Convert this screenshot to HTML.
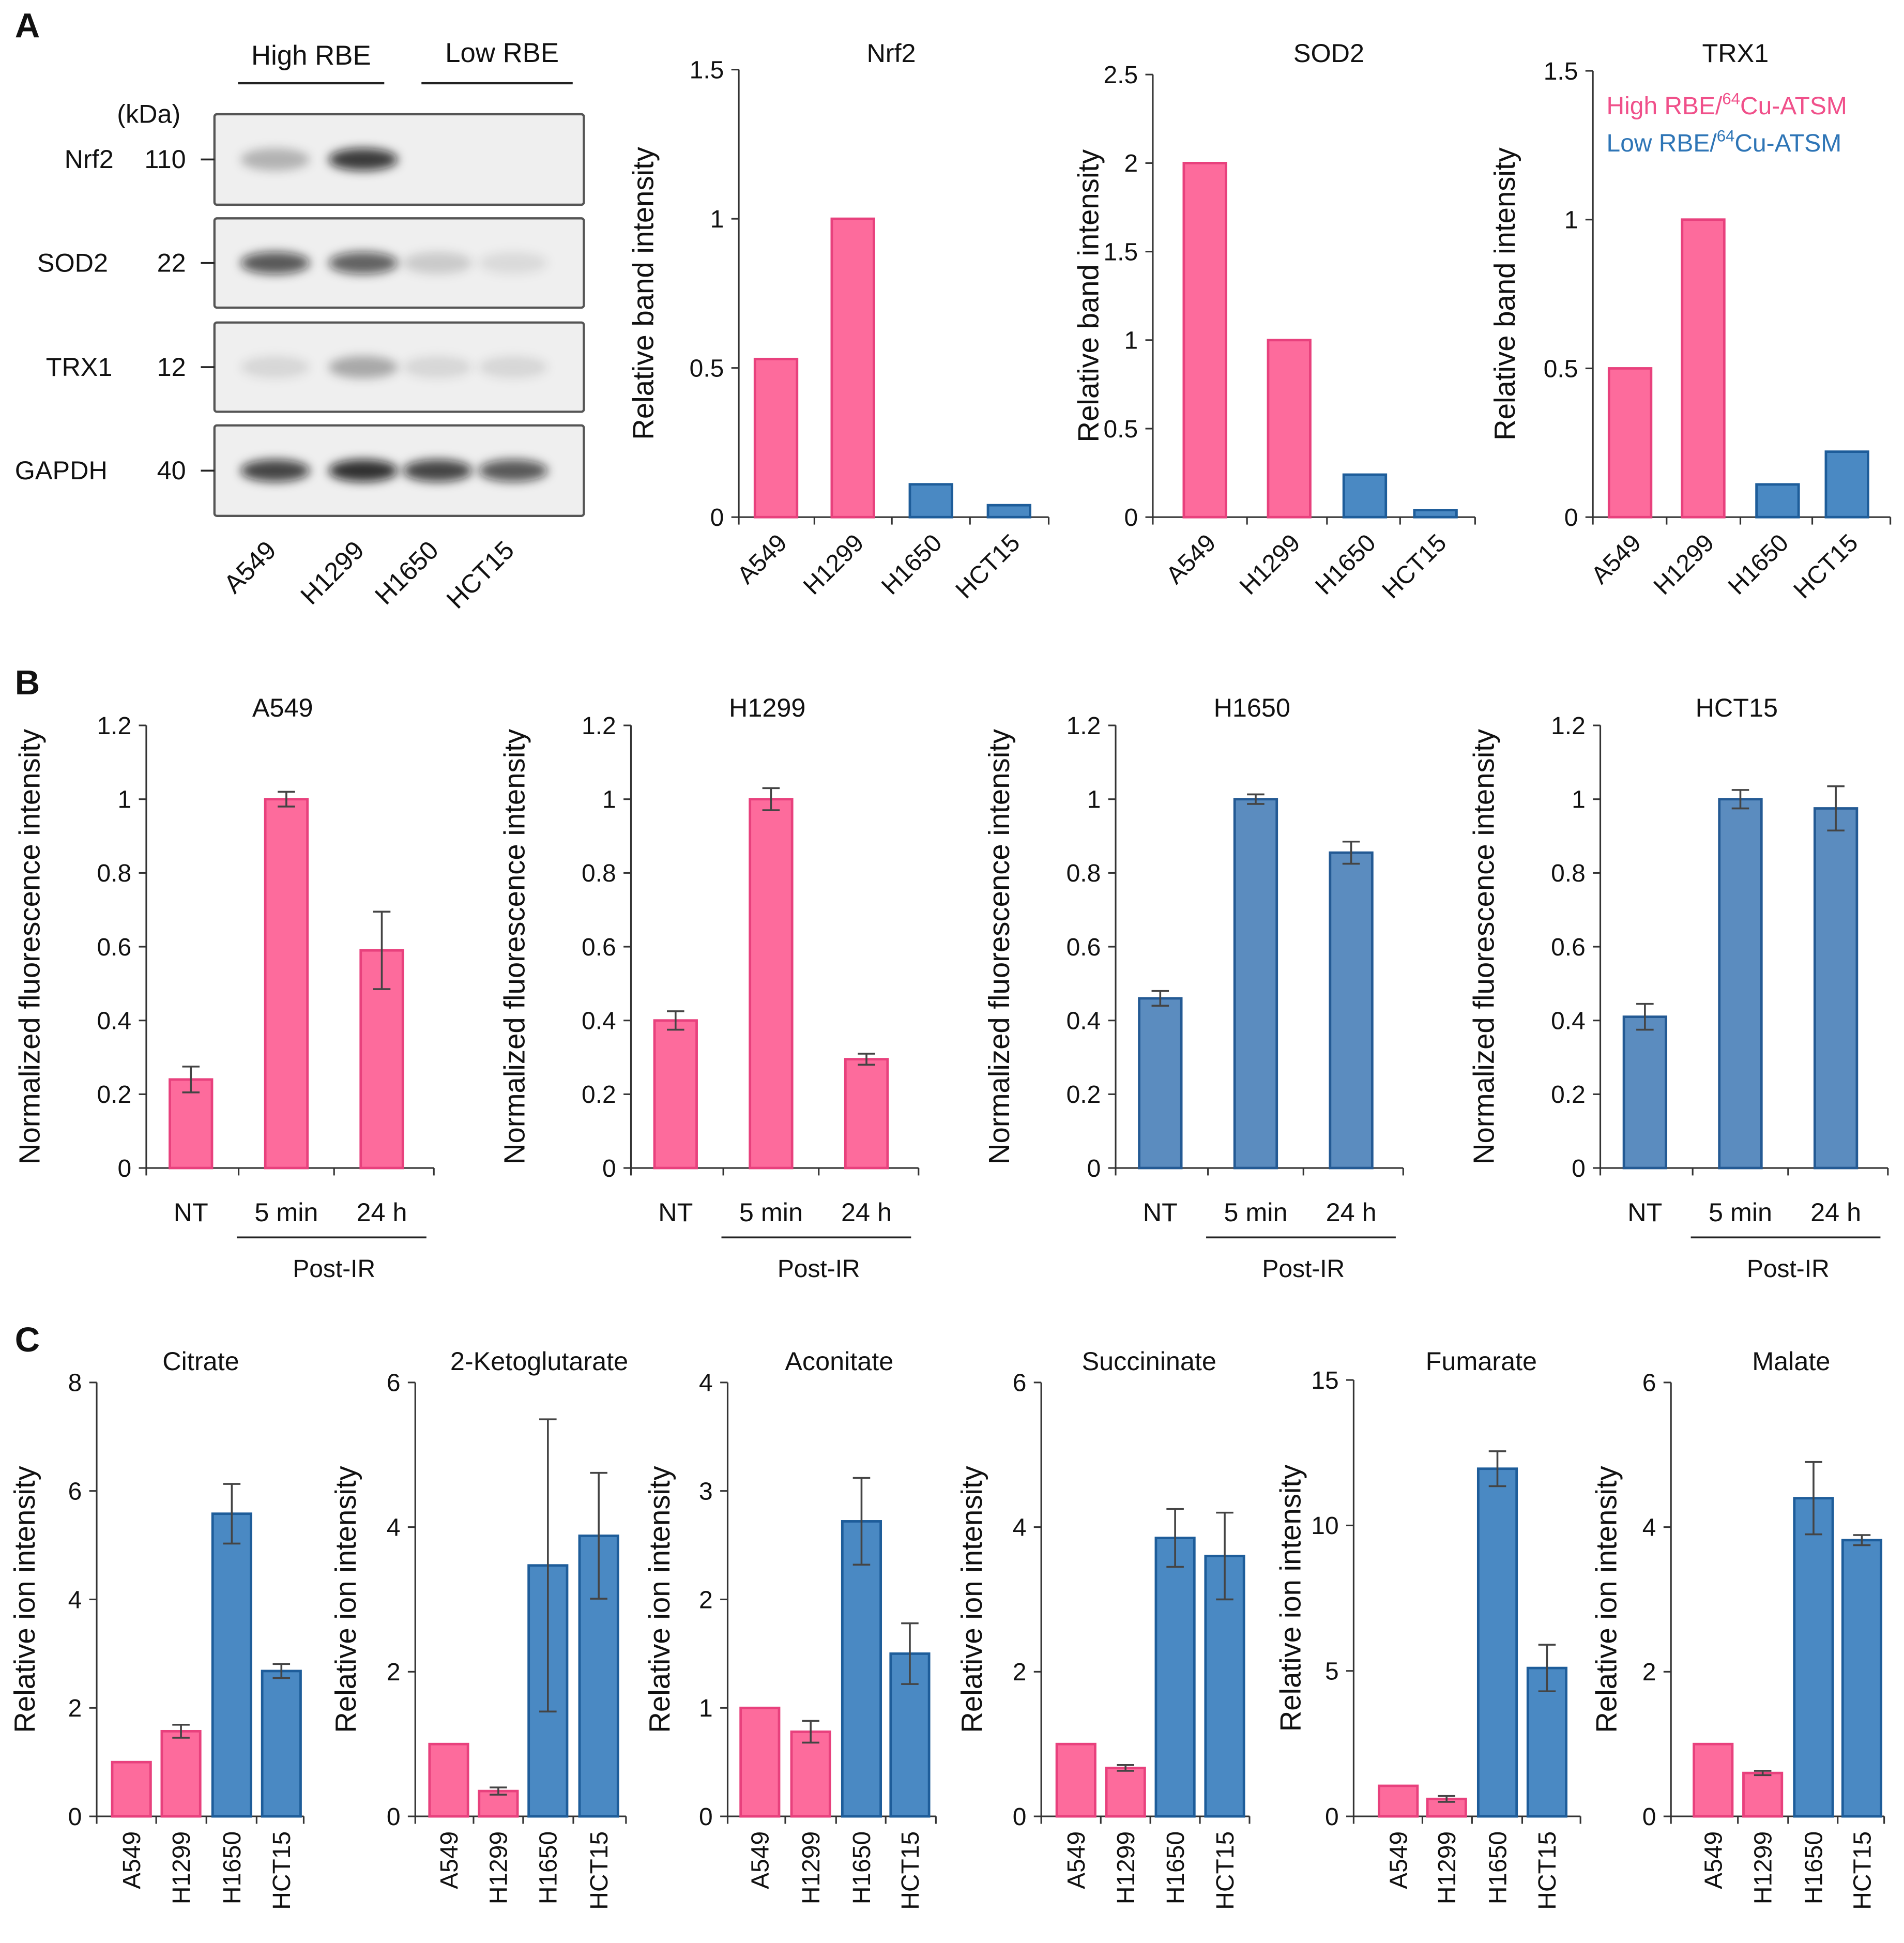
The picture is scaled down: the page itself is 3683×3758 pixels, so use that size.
<!DOCTYPE html>
<html><head><meta charset="utf-8"><style>
html,body{margin:0;padding:0;background:#fff}
svg{display:block}
text{font-family:"Liberation Sans",Arial,sans-serif;fill:#111}
</style></head><body>
<svg id="fig" xmlns="http://www.w3.org/2000/svg" width="3683" height="3758" viewBox="0 0 1536 1567">
<defs><filter id="blur" x="-50%" y="-50%" width="200%" height="200%"><feGaussianBlur stdDeviation="4"/></filter></defs>
<g id="root"></g>
</svg>
<script>
// ---- Data ----
const cellLines = ["A549","H1299","H1650","HCT15"];
const groupColors = ["pink","pink","blue","blue"];
const nrf2Vals = [0.53,1.0,0.11,0.04];
const sod2Vals = [2.0,1.0,0.24,0.04];
const trx1Vals = [0.5,1.0,0.11,0.22];
const nrf2Ticks = [0,0.5,1,1.5];
const sod2Ticks = [0,0.5,1,1.5,2,2.5];
const trx1Ticks = [0,0.5,1,1.5];
const timeCats = ["NT","5 min","24 h"];
const bTicks = [0,0.2,0.4,0.6,0.8,1,1.2];
const a549Vals = [0.24,1.0,0.59];
const a549Err = [0.035,0.02,0.105];
const h1299Vals = [0.40,1.0,0.295];
const h1299Err = [0.025,0.03,0.015];
const h1650Vals = [0.46,1.0,0.855];
const h1650Err = [0.02,0.013,0.03];
const hct15Vals = [0.41,1.0,0.975];
const hct15Err = [0.035,0.025,0.06];
const citrateVals = [1.0,1.57,5.58,2.68];
const citrateErr = [0,0.12,0.55,0.13];
const ketoVals = [1.0,0.35,3.47,3.88];
const ketoErr = [0,0.05,2.02,0.87];
const aconVals = [1.0,0.78,2.72,1.5];
const aconErr = [0,0.1,0.4,0.28];
const succVals = [1.0,0.67,3.85,3.6];
const succErr = [0,0.04,0.4,0.6];
const fumVals = [1.05,0.6,11.95,5.1];
const fumErr = [0,0.1,0.6,0.8];
const malVals = [1.0,0.6,4.4,3.82];
const malErr = [0,0.03,0.5,0.07];
const ticks8 = [0,2,4,6,8], ticks6=[0,2,4,6], ticks4=[0,1,2,3,4], ticks15=[0,5,10,15];

const NS="http://www.w3.org/2000/svg";
const root=document.getElementById('root');
const FILL={pink:"#fd6b9c",blue:"#4a89c3",blueB:"#5b8cbf"};
const STROKE={pink:"#e8417d",blue:"#1e5d9a",blueB:"#245a94"};
function mk(tag,attrs,parent,txt){const e=document.createElementNS(NS,tag);for(const k in attrs)e.setAttribute(k,attrs[k]);if(txt!==undefined)e.textContent=txt;(parent||root).appendChild(e);return e;}

function chart(o){
  const g=mk('g',{});
  
  
  const max=o.ticks[o.ticks.length-1];
  const y=v=>o.y0-(v/max)*(o.y0-o.yTop);
  const x=i=>o.centers[i];
  const ax=mk('line',{x1:o.ax,y1:o.yTop,x2:o.ax,y2:o.y0,stroke:"#333","stroke-width":1.3},g);
  
  const bx=mk('line',{x1:o.ax,y1:o.y0,x2:o.xEnd,y2:o.y0,stroke:"#333","stroke-width":1.3},g);
  
  o.ticks.forEach(t=>{
    mk('line',{x1:o.ax-6,y1:y(t),x2:o.ax,y2:y(t),stroke:"#333","stroke-width":1.3},g);
    const tl=mk('text',{x:o.ax-12,y:y(t)+7,"text-anchor":"end","font-size":20},g,String(t));
    
  });
  const n=o.vals.length;
  for(let i=0;i<=n;i++){
    let xx = i==0?o.ax:(i==n?o.xEnd:(x(i-1)+x(i))/2);
    mk('line',{x1:xx,y1:o.y0,x2:xx,y2:o.y0+6,stroke:"#333","stroke-width":1.3},g);
  }
  o.vals.forEach((v,i)=>{
    const c=o.colors[i];
    const r=mk('rect',{x:x(i)-o.bw/2,y:y(v),width:o.bw,height:o.y0-y(v),fill:FILL[c],stroke:STROKE[c],"stroke-width":2},g);
    
    
    if(o.err&&o.err[i]>0){
      const e=o.err[i],w=7;
      mk('path',{d:`M${x(i)},${y(v+e)}V${y(v-e)}M${x(i)-w},${y(v+e)}H${x(i)+w}M${x(i)-w},${y(v-e)}H${x(i)+w}`,stroke:"#444","stroke-width":1.5,fill:"none"},g);
    }
    let lab;
    if(o.xlab=='rot45'){
      lab=mk('text',{x:0,y:0,"text-anchor":"end","font-size":20,transform:`translate(${x(i)+10},${o.y0+22}) rotate(-45)`},g,o.cats[i]);
    } else if(o.xlab=='rot90'){
      lab=mk('text',{x:0,y:0,"text-anchor":"end","font-size":20,transform:`translate(${x(i)+7},${o.y0+12}) rotate(-90)`},g,o.cats[i]);
    } else {
      lab=mk('text',{x:x(i),y:o.y0+43,"text-anchor":"middle","font-size":21},g,o.cats[i]);
    }
    
  });
  const t=mk('text',{x:o.tx,y:o.ty,"text-anchor":"middle","font-size":21},g,o.title);
  
  const yt=mk('text',{x:0,y:0,"text-anchor":"middle","font-size":23.5,transform:`translate(${o.ytx},${(o.yTop+o.y0)/2}) rotate(-90)`},g,o.ytitle);
  
  if(o.postIR){
    mk('line',{x1:x(1)-40,y1:o.y0+56,x2:x(2)+36,y2:o.y0+56,stroke:"#222","stroke-width":1.5},g);
    const p=mk('text',{x:(x(1)+x(2))/2,y:o.y0+88,"text-anchor":"middle","font-size":20},g,"Post-IR");
    
  }
}

[["A",12,30],["B",12,560],["C",12,1090]].forEach(([l,x,y])=>{
  const t=mk('text',{x:x,y:y,"font-size":28,"font-weight":"bold"},root,l);
  
});

// ---- Western blot ----
const wb=mk('g',{});


const rowsY=[[92,165],[176,248],[260,332],[343,416]];
const rowNames=["Nrf2","SOD2","TRX1","GAPDH"], kda=["110","22","12","40"];
const rowNameX=[52,30,37,12];
const laneX=[222,293,353,414];
const bandInt=[[0.3,0.95,0,0],[0.8,0.75,0.18,0.1],[0.12,0.35,0.12,0.12],[0.9,1.0,0.9,0.8]];
rowsY.forEach((r,i)=>{
  mk('rect',{x:173,y:r[0],width:298,height:r[1]-r[0],fill:"#efefef",stroke:"#555","stroke-width":1.8,rx:2},wb);
  const mid=(r[0]+r[1])/2;
  laneX.forEach((lx,j)=>{
    const a=bandInt[i][j]; if(a<=0)return;
    mk('ellipse',{cx:lx,cy:mid,rx:28,ry:9,fill:"#111","fill-opacity":a*0.85,filter:"url(#blur)"},wb);
  });
  mk('line',{x1:162,y1:mid,x2:173,y2:mid,stroke:"#222","stroke-width":1.5},wb);
  const n=mk('text',{x:rowNameX[i],y:mid+7,"font-size":21},wb,rowNames[i]);
  
  mk('text',{x:150,y:mid+7,"text-anchor":"end","font-size":21},wb,kda[i]);
});
mk('text',{x:120,y:99,"text-anchor":"middle","font-size":21},wb,"(kDa)");
mk('text',{x:251,y:52,"text-anchor":"middle","font-size":22},wb,"High RBE");
mk('line',{x1:192,y1:67,x2:310,y2:67,stroke:"#222","stroke-width":1.8},wb);
mk('text',{x:405,y:50,"text-anchor":"middle","font-size":22},wb,"Low RBE");
mk('line',{x1:340,y1:67,x2:462,y2:67,stroke:"#222","stroke-width":1.8},wb);
cellLines.forEach((c,j)=>{
  mk('text',{x:0,y:0,"text-anchor":"end","font-size":21,transform:`translate(${laneX[j]+2},${445}) rotate(-45)`},wb,c);
});

// ---- Panel A charts ----
chart({name:"nrf2-chart",title:"Nrf2",tx:719,ty:50,ax:596,xEnd:846,yTop:56,y0:417,ticks:nrf2Ticks,vals:nrf2Vals,cats:cellLines,colors:groupColors,centers:[626,688,751,814],bw:34,xlab:'rot45',ytx:527,ytitle:"Relative band intensity"});
chart({name:"sod2-chart",title:"SOD2",tx:1072,ty:50,ax:930,xEnd:1190,yTop:60,y0:417,ticks:sod2Ticks,vals:sod2Vals,cats:cellLines,colors:groupColors,centers:[972,1040,1101,1158],bw:34,xlab:'rot45',ytx:886,ytitle:"Relative band intensity"});
chart({name:"trx1-chart",title:"TRX1",tx:1400,ty:50,ax:1285,xEnd:1525,yTop:57,y0:417,ticks:trx1Ticks,vals:trx1Vals,cats:cellLines,colors:groupColors,centers:[1315,1374,1434,1490],bw:34,xlab:'rot45',ytx:1222,ytitle:"Relative band intensity"});
const lg1=mk('text',{x:1296,y:92,"font-size":20},root);

lg1.innerHTML='<tspan fill="#f0508a">High RBE/</tspan><tspan fill="#f0508a" font-size="13" dy="-8">64</tspan><tspan fill="#f0508a" dy="8">Cu-ATSM</tspan>';
const lg2=mk('text',{x:1296,y:122,"font-size":20},root);

lg2.innerHTML='<tspan fill="#2e75b6">Low RBE/</tspan><tspan fill="#2e75b6" font-size="13" dy="-8">64</tspan><tspan fill="#2e75b6" dy="8">Cu-ATSM</tspan>';

// ---- Panel B ----
const bSets=[["a549",a549Vals,a549Err,"A549","pink"],["h1299",h1299Vals,h1299Err,"H1299","pink"],["h1650",h1650Vals,h1650Err,"H1650","blueB"],["hct15",hct15Vals,hct15Err,"HCT15","blueB"]];
bSets.forEach((s,k)=>{
  const off=k*391;
  chart({name:"fluorescence-"+s[0]+"-chart",title:s[3],tx:228+off,ty:578,ax:118+off,xEnd:350+off,yTop:585,y0:942,ticks:bTicks,vals:s[1],err:s[2],cats:timeCats,colors:[s[4],s[4],s[4]],centers:[154+off,231+off,308+off],bw:34,xlab:'flat',ytx:32+off,ytitle:"Normalized fluorescence intensity",postIR:true});
});

// ---- Panel C ----
const cSets=[
 ["citrate","Citrate",citrateVals,citrateErr,ticks8,78,245,[106,146,187,227],162,28,1115],
 ["ketoglutarate","2-Ketoglutarate",ketoVals,ketoErr,ticks6,335,505,[362,402,442,483],435,287,1115],
 ["aconitate","Aconitate",aconVals,aconErr,ticks4,587,755,[613,654,695,734],677,540,1115],
 ["succininate","Succininate",succVals,succErr,ticks6,840,1008,[868,908,948,988],927,792,1115],
 ["fumarate","Fumarate",fumVals,fumErr,ticks15,1092,1275,[1128,1167,1208,1248],1195,1049,1113],
 ["malate","Malate",malVals,malErr,ticks6,1348,1520,[1382,1422,1463,1502],1445,1304,1115]];
cSets.forEach(s=>{
  chart({name:s[0]+"-chart",title:s[1],tx:s[8],ty:1105,ax:s[5],xEnd:s[6],yTop:s[10],y0:1465,ticks:s[4],vals:s[2],err:s[3],cats:cellLines,colors:groupColors,centers:s[7],bw:31,xlab:'rot90',ytx:s[9],ytitle:"Relative ion intensity"});
});
</script>
</body></html>
